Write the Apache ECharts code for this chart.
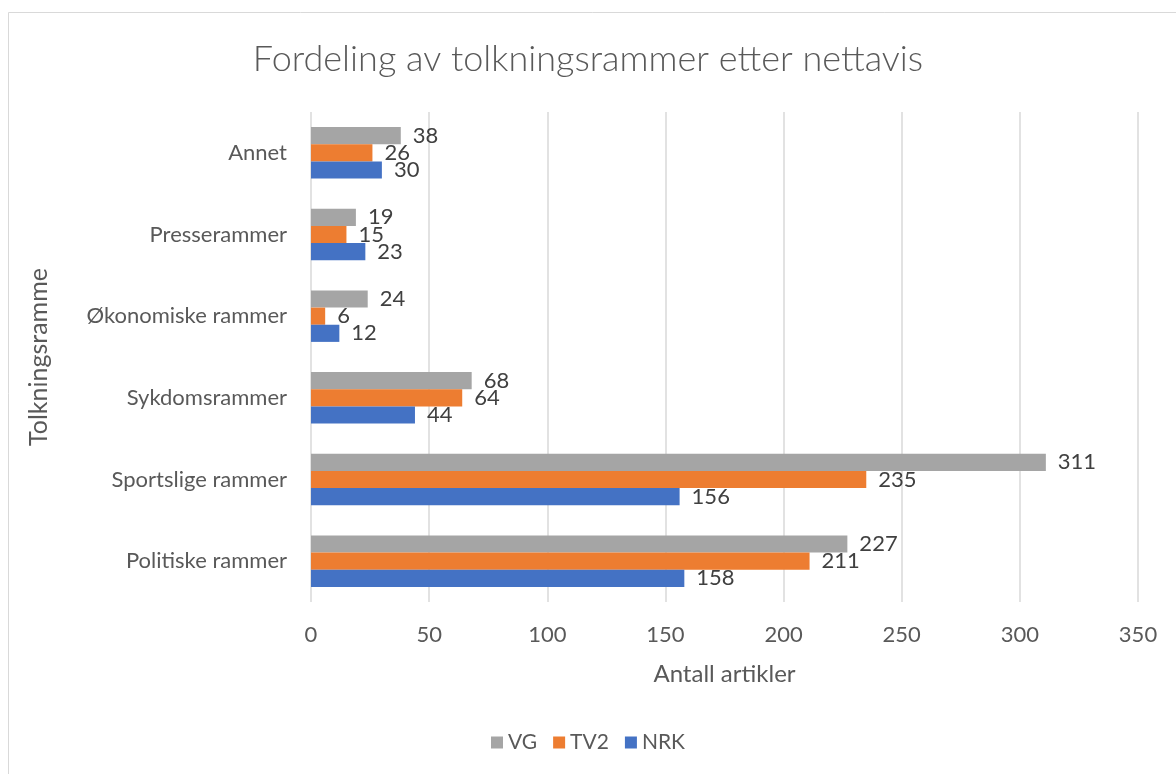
<!DOCTYPE html>
<html>
<head>
<meta charset="utf-8">
<script src="https://cdn.jsdelivr.net/npm/echarts@6/dist/echarts.min.js"></script>
<style>html,body{margin:0;padding:0;background:#fff}#c{width:1176px;height:774px}</style>
</head>
<body>
<div id="c"></div>
<script>
const categories = ["Politiske rammer", "Sportslige rammer", "Sykdomsrammer", "Økonomiske rammer", "Presserammer", "Annet"];
const nrk = [158, 156, 44, 12, 23, 30];
const tv2 = [211, 235, 64, 6, 15, 26];
const vg = [227, 311, 68, 24, 19, 38];
const xTicks = [0, 50, 100, 150, 200, 250, 300, 350];

const FONT = "Lato";
const TXT = "#595959";

const chart = echarts.init(document.getElementById('c'), null, {renderer: 'canvas'});
const lbl = {show: true, position: 'right', distance: 12, color: '#404040', fontSize: 22, fontFamily: FONT};
chart.setOption({
  animation: false,
  backgroundColor: '#fff',
  textStyle: {fontFamily: FONT},
  title: {
    text: 'Fordeling av tolkningsrammer etter nettavis',
    left: 'center', top: 36,
    textStyle: {fontFamily: FONT, fontSize: 36, fontWeight: 300, color: TXT}
  },
  graphic: [{
    type: 'rect', shape: {x: 8.5, y: 12.5, width: 1200, height: 800},
    style: {fill: 'none', stroke: '#d9d9d9', lineWidth: 1}, silent: true
  }],
  legend: {
    data: ['VG', 'TV2', 'NRK'],
    bottom: 16, left: 'center',
    itemWidth: 12, itemHeight: 12, itemGap: 16, icon: 'rect',
    textStyle: {fontFamily: FONT, fontSize: 21, color: TXT}
  },
  grid: {left: 311, right: 38, top: 112, bottom: 172, containLabel: false},
  xAxis: {
    type: 'value', min: 0, max: 350, interval: 50,
    name: 'Antall artikler', nameLocation: 'middle', nameGap: 60,
    nameTextStyle: {fontFamily: FONT, fontSize: 24, color: TXT},
    axisLine: {show: false}, axisTick: {show: false},
    axisLabel: {fontFamily: FONT, fontSize: 22, color: TXT, margin: 22,
      formatter: v => xTicks.includes(v) ? String(v) : ''},
    splitLine: {show: true, lineStyle: {color: '#d9d9d9', width: 1.5}}
  },
  yAxis: {
    type: 'category', data: categories,
    name: 'Tolkningsramme', nameLocation: 'middle', nameGap: 260, nameRotate: 90,
    nameTextStyle: {fontFamily: FONT, fontSize: 25, color: TXT},
    axisLine: {show: false}, axisTick: {show: false},
    axisLabel: {fontFamily: FONT, fontSize: 22, color: TXT, margin: 24}
  },
  series: [
    {name: 'VG', type: 'bar', data: vg, itemStyle: {color: '#a5a5a5'}, barGap: '0%', barCategoryGap: '37%', label: lbl},
    {name: 'TV2', type: 'bar', data: tv2, itemStyle: {color: '#ed7d31'}, barGap: '0%', barCategoryGap: '37%', label: lbl},
    {name: 'NRK', type: 'bar', data: nrk, itemStyle: {color: '#4472c4'}, barGap: '0%', barCategoryGap: '37%', label: lbl}
  ]
});
</script>
</body>
</html>
